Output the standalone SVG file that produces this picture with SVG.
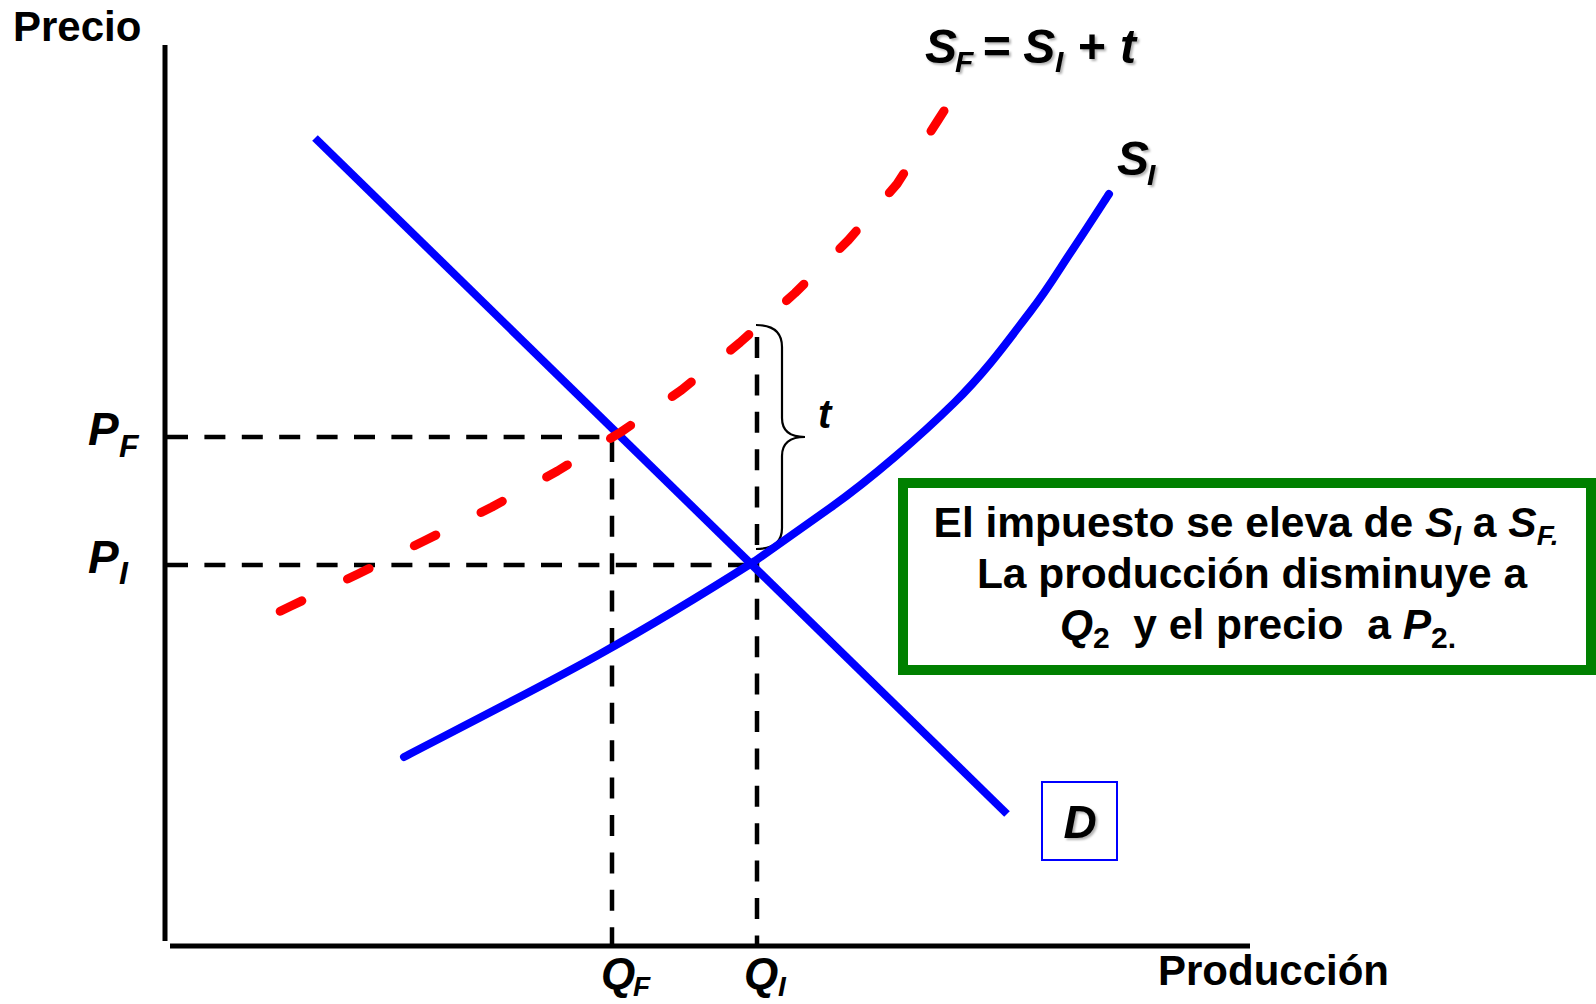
<svg xmlns="http://www.w3.org/2000/svg" width="1596" height="1004" viewBox="0 0 1596 1004">
<defs>
<style>
.lbl{font-family:"Liberation Sans",Arial,sans-serif;font-weight:bold;fill:#000}
.it{font-style:italic}
.axis{stroke:#000;stroke-width:5;fill:none}
.guide{stroke:#000;stroke-width:4.5;stroke-dasharray:21 16.4;fill:none}
.blue{stroke:#0000ff;stroke-width:8;fill:none}
.red{stroke:#ff0000;stroke-width:9;fill:none;stroke-linecap:round;stroke-linejoin:round;stroke-dasharray:24 50.6}
</style>
<filter id="sh" x="-20%" y="-20%" width="140%" height="140%">
<feDropShadow dx="2" dy="2" stdDeviation="1.2" flood-color="#000" flood-opacity="0.3"/>
</filter>
</defs>
<rect width="1596" height="1004" fill="#fff"/>

<g id="axes">
<line class="axis" x1="165" y1="45" x2="165" y2="941"/>
<line class="axis" x1="170" y1="946" x2="1250" y2="946"/>
<text class="lbl" x="13" y="41" font-size="42">Precio</text>
<text class="lbl" x="1158" y="985" font-size="42">Producción</text>
</g>

<g id="connectors">
<line class="guide" x1="167" y1="437" x2="612" y2="437"/>
<line class="guide" x1="167" y1="565" x2="757" y2="565"/>
<line class="guide" x1="612" y1="441" x2="612" y2="946"/>
<line class="guide" x1="757" y1="337" x2="757" y2="946"/>
<path d="M756,325 Q782,325 782,347 L782,418 Q782,437 805,437 Q782,437 782,456 L782,528 Q782,549 756,549" fill="none" stroke="#000" stroke-width="2.2"/>
</g>

<g id="demand">
<line class="blue" x1="315" y1="138" x2="1007" y2="814"/>
</g>

<g id="supply-initial">
<path class="blue" stroke-linecap="round" d="M404,757 C436.7,739.8 541.5,686.7 600,654 C658.5,621.3 716.7,585.3 755,561 L830,508 C871,479 920.7,435.7 954,403 C987.3,370.3 1010.2,337.7 1030,312 C1049.8,286.3 1059.8,268.3 1073,249 C1086.2,229.3 1103,203.2 1109,194"/>
</g>

<g id="supply-final">
<polyline class="red" points="280.2,611.2 291,606 358,574 425,540.5 492,507 557.5,471 621,432 681.5,390 740,342.5 795,293 848.5,240 897,184 937.5,121 944,110.9"/>
</g>

<g id="label-SF">
<text class="lbl it" font-size="48" filter="url(#sh)"><tspan x="925" y="63">S</tspan><tspan x="955" y="72" font-size="30">F</tspan><tspan x="982" y="63">= S</tspan><tspan x="1055" y="72" font-size="30">I</tspan><tspan x="1078" y="63" font-style="normal">+</tspan><tspan x="1120" y="63">t</tspan></text>
</g>

<g id="label-SI">
<text class="lbl it" font-size="48" filter="url(#sh)"><tspan x="1117" y="175">S</tspan><tspan x="1147" y="185" font-size="30">I</tspan></text>
</g>

<g id="label-t">
<text class="lbl it" x="818" y="428" font-size="40">t</text>
</g>

<g id="label-PF">
<text class="lbl it" font-size="46"><tspan x="88" y="445">P</tspan><tspan x="119" y="457" font-size="32">F</tspan></text>
</g>
<g id="label-PI">
<text class="lbl it" font-size="46"><tspan x="88" y="573">P</tspan><tspan x="119" y="584" font-size="32">I</tspan></text>
</g>
<g id="label-QF">
<text class="lbl it" font-size="44"><tspan x="601" y="989">Q</tspan><tspan x="633" y="996" font-size="28">F</tspan></text>
</g>
<g id="label-QI">
<text class="lbl it" font-size="44"><tspan x="744" y="989">Q</tspan><tspan x="778" y="996" font-size="28">I</tspan></text>
</g>

<g id="label-D">
<rect x="1042" y="782" width="75" height="78" fill="#fff" stroke="#0000ff" stroke-width="2"/>
<text class="lbl it" x="1080" y="838" font-size="46" text-anchor="middle" filter="url(#sh)">D</text>
</g>

<g id="note">
<rect x="903" y="483" width="688" height="187" fill="#fff" stroke="#008000" stroke-width="10"/>
<text class="lbl" font-size="42.5" text-anchor="middle" xml:space="preserve"><tspan x="1246" y="537">El impuesto se eleva de <tspan class="it">S</tspan><tspan class="it" font-size="28" dy="8">I</tspan><tspan dy="-8"> a </tspan><tspan class="it">S</tspan><tspan class="it" font-size="28" dy="8">F.</tspan></tspan><tspan x="1252" y="588">La producción disminuye a</tspan><tspan x="1258" y="639"><tspan class="it">Q</tspan><tspan font-size="30" dy="9">2</tspan><tspan dy="-9">  y el precio  a </tspan><tspan class="it">P</tspan><tspan font-size="30" dy="9">2.</tspan></tspan></text>
</g>
</svg>
